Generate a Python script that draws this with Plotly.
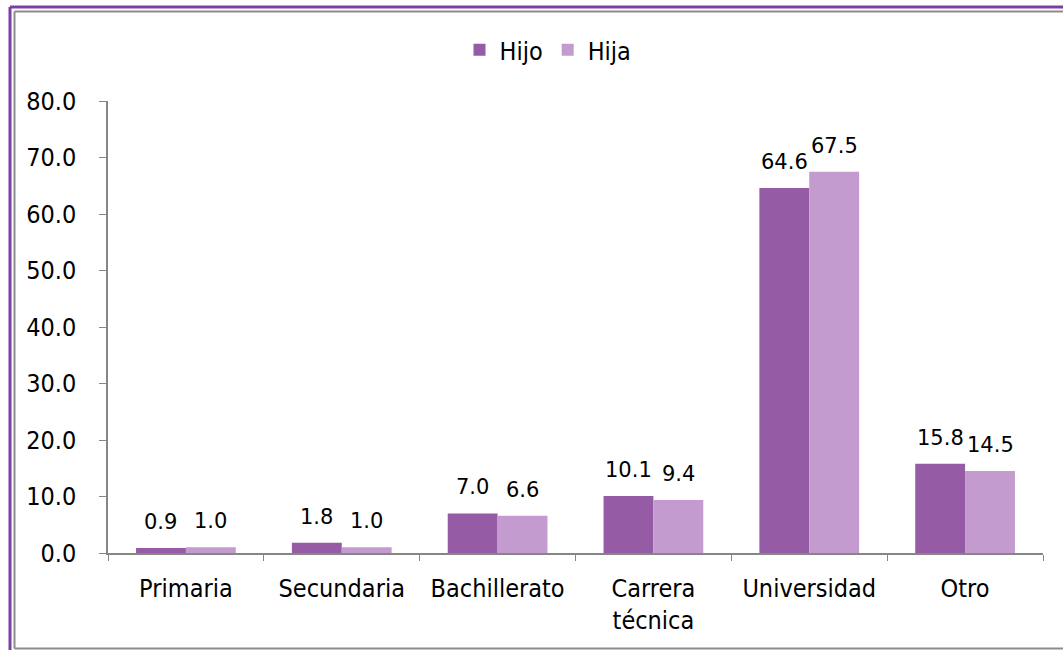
import plotly.graph_objects as go

# data
categories = ["Primaria", "Secundaria", "Bachillerato", "Carrera técnica", "Universidad", "Otro"]
tick_labels = ["Primaria", "Secundaria", "Bachillerato", "Carrera<br>técnica", "Universidad", "Otro"]
hijo = [0.9, 1.8, 7.0, 10.1, 64.6, 15.8]
hija = [1.0, 1.0, 6.6, 9.4, 67.5, 14.5]
y_ticks = [0, 10, 20, 30, 40, 50, 60, 70, 80]

HIJO_COL = "#955BA5"
HIJA_COL = "#C39BCF"
AXIS_COL = "#868686"

# plot area in pixels (for the frame drawn around the chart)
L, R, T, B = 108, 1043, 101, 553
W, H = 1063, 650


def px_x(px):
    return (px - L) / (R - L)


def px_y(py):
    return (B - py) / (B - T)


fig = go.Figure()
fig.add_trace(go.Bar(x=categories, y=hijo, name="Hijo", marker_color=HIJO_COL,
                     marker_line_width=0))
fig.add_trace(go.Bar(x=categories, y=hija, name="Hija", marker_color=HIJA_COL,
                     marker_line_width=0))

# value labels above each bar
for vals, shift in [(hijo, -25), (hija, 25)]:
    for c, v in zip(categories, vals):
        fig.add_annotation(x=c, y=v, text=f"{v:.1f}", showarrow=False,
                           xshift=shift, yshift=12, yanchor="bottom",
                           font=dict(family="DejaVu Sans", size=21, color="#000"))

# frame: purple outer line, grey inner line
frame = [
    (px_x(10), px_y(7), px_x(1080), px_y(7), "#7B3FA6", 3),
    (px_x(10), px_y(7), px_x(10), px_y(660), "#7B3FA6", 3),
    (px_x(14.5), px_y(11.5), px_x(1080), px_y(11.5), "#8C8C8C", 2),
    (px_x(14.5), px_y(11.5), px_x(14.5), px_y(648.5), "#8C8C8C", 2),
    (px_x(14.5), px_y(648.5), px_x(1080), px_y(648.5), "#8C8C8C", 2),
]
for x0, y0, x1, y1, col, w in frame:
    fig.add_shape(type="line", xref="paper", yref="paper", x0=x0, y0=y0, x1=x1, y1=y1,
                  line=dict(color=col, width=w))

fig.update_layout(
    width=W, height=H,
    margin=dict(l=L, r=W - R, t=T, b=H - B, pad=0),
    paper_bgcolor="white", plot_bgcolor="white",
    barmode="group", bargap=0.36, bargroupgap=0,
    font=dict(family="DejaVu Sans Condensed", size=25, color="#000"),
    legend=dict(orientation="h", x=px_x(548), xanchor="center", y=px_y(50),
                yanchor="middle", font=dict(size=25), traceorder="normal",
                itemclick=False, itemwidth=30),
    xaxis=dict(tickvals=categories, ticktext=tick_labels, showline=True,
               linecolor=AXIS_COL, linewidth=1.5, ticks="outside", ticklen=6,
               tickcolor=AXIS_COL, tickson="boundaries", ticklabelstandoff=12,
               showgrid=False),
    yaxis=dict(range=[0, 80], tickvals=y_ticks, tickformat=".1f", showline=True,
               linecolor=AXIS_COL, linewidth=1.5, ticks="outside", ticklen=7,
               tickcolor=AXIS_COL, showgrid=False, zeroline=False,
               ticklabelstandoff=18),
)

# drop the browser's default body margin so the figure sits at the page origin
fig.write_html("out.html", config={"displayModeBar": False},
               post_script="document.body.style.margin='0';")
